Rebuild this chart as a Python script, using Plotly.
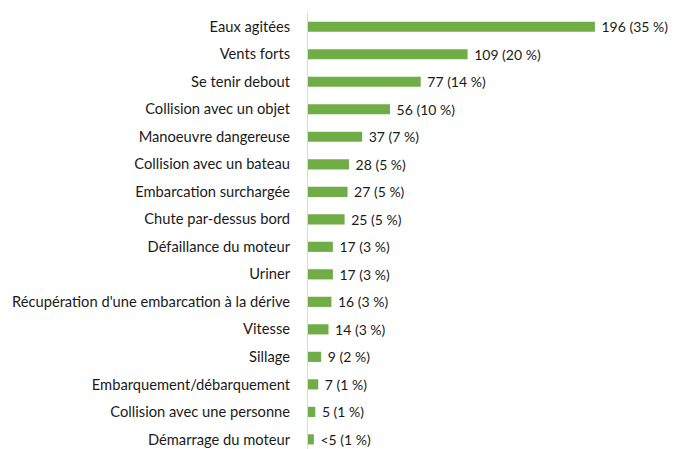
import plotly.graph_objects as go

categories = [
    "Eaux agitées",
    "Vents forts",
    "Se tenir debout",
    "Collision avec un objet",
    "Manoeuvre dangereuse",
    "Collision avec un bateau",
    "Embarcation surchargée",
    "Chute par-dessus bord",
    "Défaillance du moteur",
    "Uriner",
    "Récupération d'une embarcation à la dérive",
    "Vitesse",
    "Sillage",
    "Embarquement/débarquement",
    "Collision avec une personne",
    "Démarrage du moteur",
]
counts = [196, 109, 77, 56, 37, 28, 27, 25, 17, 17, 16, 14, 9, 7, 5, 4]
bar_labels = [
    "196 (35 %)", "109 (20 %)", "77 (14 %)", "56 (10 %)", "37 (7 %)",
    "28 (5 %)", "27 (5 %)", "25 (5 %)", "17 (3 %)", "17 (3 %)",
    "16 (3 %)", "14 (3 %)", "9 (2 %)", "7 (1 %)", "5 (1 %)", "<5 (1 %)",
]

FONT = "Lato"
GREEN = "#70AD47"
TEXT = "#1a1a1a"

fig = go.Figure(go.Bar(
    x=counts,
    y=categories,
    orientation="h",
    marker=dict(color=GREEN, line=dict(width=0)),
    width=0.37,
    text=["\u00a0" + t for t in bar_labels],
    textposition="outside",
    constraintext="none",
    textfont=dict(family=FONT, size=14, color=TEXT),
    cliponaxis=False,
))

# page body adds 8px around the figure, so the figure is sized to fit
fig.update_layout(
    width=668,
    height=441,
    margin=dict(l=300, r=1, t=5, b=0, autoexpand=False),
    paper_bgcolor="white",
    plot_bgcolor="white",
    showlegend=False,
    font=dict(family=FONT, size=14.7, color=TEXT),
)
fig.update_xaxes(
    range=[0, 250.7],
    showgrid=False,
    zeroline=False,
    showticklabels=False,
    showline=False,
    automargin=False,
)
fig.update_yaxes(
    categoryorder="array",
    categoryarray=categories,
    range=[15.35, -0.5],
    showgrid=False,
    zeroline=False,
    showline=True,
    linecolor="#d9d9d9",
    linewidth=1,
    ticks="",
    ticklabelstandoff=14,
    automargin=False,
)

fig.write_html("out.html")
